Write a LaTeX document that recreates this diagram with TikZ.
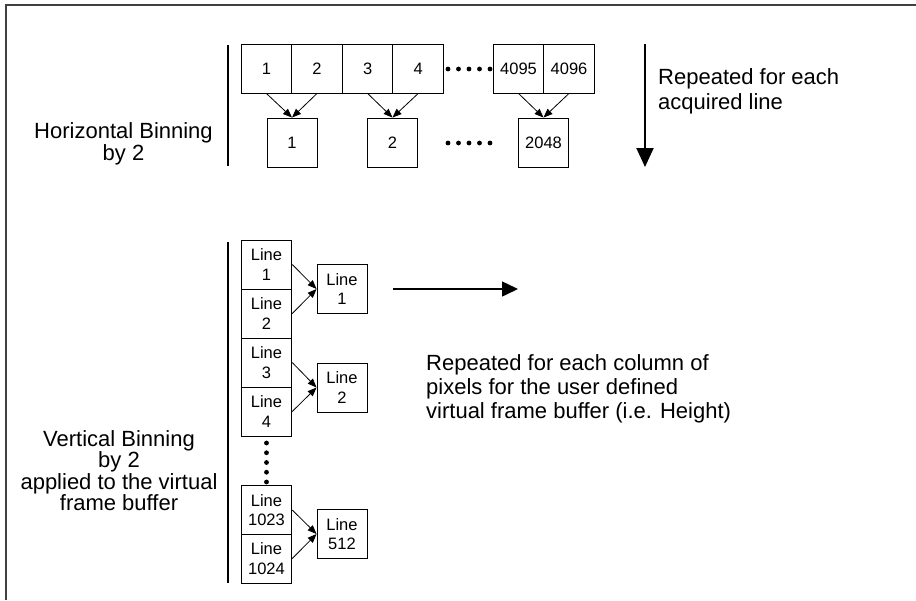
\documentclass[tikz,border=0pt]{standalone}
\usepackage{fontspec}
\setmainfont{Liberation Sans}
\usetikzlibrary{arrows.meta}
\tikzset{
  cell/.style={draw, line width=0.9pt, inner sep=0pt, minimum width=50.6pt, minimum height=49pt,
    align=center, font=\fontsize{16.5}{19.5}\selectfont},
  outcell/.style={cell, minimum width=50pt},
  small/.style={-{Triangle[length=9pt,width=7pt]}, line width=0.8pt},
  bar/.style={line width=2.5pt},
  bigtext/.style={inner sep=0pt, align=center},
  dot/.style={fill=black},
}
\begin{document}
\begin{tikzpicture}[x=1pt,y=-1pt]
\useasboundingbox (0,0) rectangle (916,600);
% frame
\draw[line width=1.2pt, black!75] (6,600) -- (6,5) -- (916,5);

% ---------- horizontal binning ----------
\node[bigtext, anchor=north, font=\fontsize{22}{22.5}\selectfont] (hlab) at (123.5,122) {Horizontal Binning\\by 2};
\coordinate (hb1) at (228,45);
\coordinate (hb2) at (228,166);
\draw[bar] (hb1) -- (hb2);

\node[cell] (t1) at (266.4,68.5) {1};
\node[cell] (t2) at (317,68.5) {2};
\node[cell] (t3) at (367.6,68.5) {3};
\node[cell] (t4) at (418.2,68.5) {4};
\node[cell] (t5) at (518.5,68.5) {4095};
\node[cell] (t6) at (569,68.5) {4096};

\node[outcell] (b1) at (292,142.5) {1};
\node[outcell] (b2) at (392.5,142.5) {2};
\node[outcell] (b3) at (543.5,142.5) {2048};

\foreach \i in {0,...,4} {
  \fill[dot] (448+10.5*\i,69) circle (2.4);
  \fill[dot] (448+10.5*\i,143) circle (2.4);
}

\draw[small] (t1.south) -- (b1.north);
\draw[small] (t2.south) -- (b1.north);
\draw[small] (t3.south) -- (b2.north);
\draw[small] (t4.south) -- (b2.north);
\draw[small] (t5.south) -- (b3.north);
\draw[small] (t6.south) -- (b3.north);

\coordinate (da1) at (645,44);
\coordinate (da2) at (645,167);
\draw[line width=2pt, -{Triangle[length=19pt,width=17pt]}] (da1) -- (da2);
\node[inner sep=0pt, anchor=north west, align=left, font=\fontsize{22}{25}\selectfont] (rep1) at (658,68) {Repeated for each\\acquired line};

% ---------- vertical binning ----------
\node[bigtext, anchor=north, font=\fontsize{22}{20}\selectfont] (vlab) at (119,430) {Vertical Binning\\by 2\\applied to the virtual\\frame buffer};
\coordinate (vb1) at (228,242);
\coordinate (vb2) at (228,583);
\draw[bar] (vb1) -- (vb2);

\node[cell] (l1) at (266.5,264.5) {Line\\1};
\node[cell] (l2) at (266.5,313.5) {Line\\2};
\node[cell] (l3) at (266.5,362.5) {Line\\3};
\node[cell] (l4) at (266.5,411.5) {Line\\4};
\node[cell] (l5) at (266.5,510) {Line\\1023};
\node[cell] (l6) at (266.5,558.5) {Line\\1024};

\node[outcell] (o1) at (342,289) {Line\\1};
\node[outcell] (o2) at (342,387.5) {Line\\2};
\node[outcell] (o3) at (342,534) {Line\\512};

\foreach \i in {0,...,4} {
  \fill[dot] (266.5,443+9.75*\i) circle (2.4);
}

\draw[small] (l1.east) -- (o1.west);
\draw[small] (l2.east) -- (o1.west);
\draw[small] (l3.east) -- (o2.west);
\draw[small] (l4.east) -- (o2.west);
\draw[small] (l5.east) -- (o3.west);
\draw[small] (l6.east) -- (o3.west);

\coordinate (ha1) at (393,289);
\coordinate (ha2) at (518,289);
\draw[line width=1.5pt, -{Triangle[length=16pt,width=15pt]}] (ha1) -- (ha2);

\node[inner sep=0pt, anchor=north west, align=left, font=\fontsize{22}{24}\selectfont] (rep2) at (426,354) {Repeated for each column of\\pixels for the user defined\\virtual frame buffer (i.e. Height)};
\end{tikzpicture}
\end{document}
